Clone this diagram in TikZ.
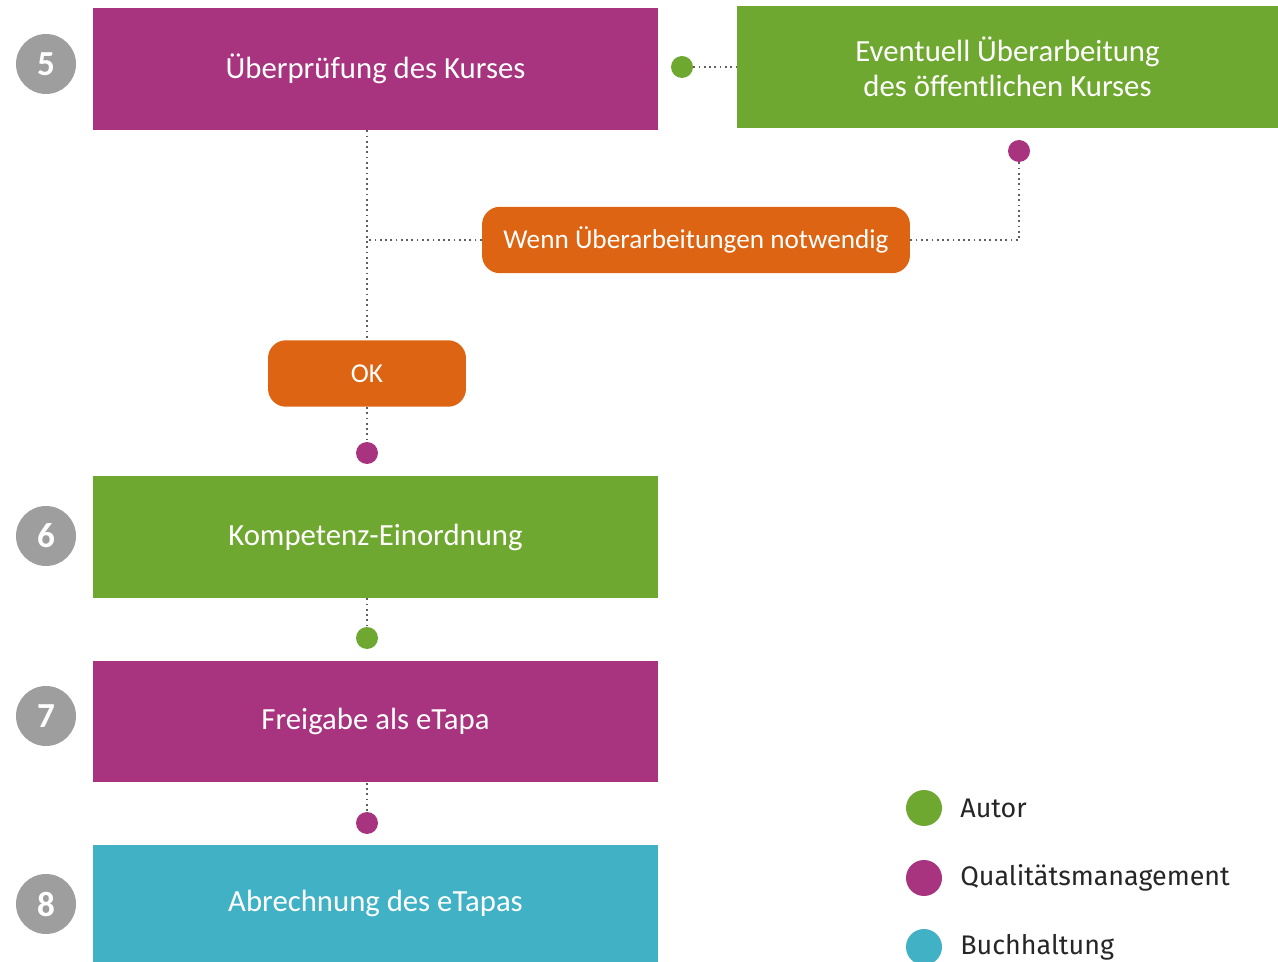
\documentclass[tikz,border=0pt]{standalone}
\usepackage{fontspec}
\setmainfont{Carlito}
\newfontfamily\legendfont{Fira Sans}
\usetikzlibrary{positioning}
\definecolor{qmmagenta}{RGB}{168,51,126}
\definecolor{autorgreen}{RGB}{111,168,48}
\definecolor{decorange}{RGB}{220,100,18}
\definecolor{buchcyan}{RGB}{65,177,198}
\definecolor{numgray}{RGB}{158,158,158}
\definecolor{linegray}{RGB}{95,95,95}

\begin{document}
\begin{tikzpicture}[x=0.02cm,y=-0.02cm,
    stepbox/.style={minimum width=11.3cm,minimum height=2.44cm,inner sep=0pt,text=white,font=\fontsize{17.5}{20}\selectfont},
    numcircle/.style={circle,fill=numgray,minimum size=1.2cm,inner sep=0pt,text=white,font=\bfseries\fontsize{20}{24}\selectfont},
    decision/.style={rounded corners=0.36cm,fill=decorange,minimum height=1.33cm,inner sep=0pt,text=white,font=\fontsize{15.5}{18}\selectfont},
    dot/.style={circle,minimum size=0.44cm,inner sep=0pt},
    legdot/.style={circle,minimum size=0.72cm,inner sep=0pt},
    link/.style={linegray,dotted,line width=1pt}
]
\useasboundingbox (0,0) rectangle (1278,962);

% steps
\node[stepbox,fill=qmmagenta] (review) at (375.5,69) {Überprüfung des Kurses};
\node[stepbox,fill=autorgreen,minimum width=10.82cm,align=center] (revise) at (1007.5,67)
    {Eventuell Überarbeitung\\des öffentlichen Kurses};
\node[stepbox,fill=autorgreen] (competence) at (375.5,537) {Kompetenz-Einordnung};
\node[stepbox,fill=qmmagenta] (release) at (375.5,721.5) {Freigabe als eTapa};
\node[stepbox,fill=buchcyan,minimum height=2.34cm] (billing) at (375.5,903.5) {Abrechnung des eTapas};

% numbers
\node[numcircle] (n5) at (46,64) {5};
\node[numcircle] (n6) at (46,536) {6};
\node[numcircle] (n7) at (46,716) {7};
\node[numcircle] (n8) at (46,904) {8};

% decisions
\node[decision,minimum width=8.56cm] (needed) at (696,240) {Wenn Überarbeitungen notwendig};
\node[decision,minimum width=3.96cm] (ok) at (367,373.5) {OK};

% role dots
\node[dot,fill=autorgreen] (dotA) at (682,67) {};
\node[dot,fill=qmmagenta] (dotB) at (1019,151) {};
\node[dot,fill=qmmagenta] (dotC) at (367,453) {};
\node[dot,fill=autorgreen] (dotD) at (367,638) {};
\node[dot,fill=qmmagenta] (dotE) at (367,823) {};

% connectors
\draw[link] (dotA) -- (revise.west);
\draw[link] (dotB) |- (needed.east);
\draw[link] (review.south -| ok.north) -- (ok.north);
\draw[link] (needed.west) -- (needed.west -| ok.north);
\draw[link] (ok.south) -- (dotC);
\draw[link] (competence.south -| dotD) -- (dotD);
\draw[link] (release.south -| dotE) -- (dotE);

% legend
\foreach \y/\c/\t in {808/autorgreen/Autor,878/qmmagenta/Qualitätsmanagement,947/buchcyan/Buchhaltung} {
    \node[legdot,fill=\c] (leg\c) at (924,\y) {};
    \node[anchor=west,inner sep=0pt,text=black!85,font=\legendfont\fontsize{15.3}{18}\selectfont] at (960,\y) {\t};
}
\end{tikzpicture}
\end{document}
